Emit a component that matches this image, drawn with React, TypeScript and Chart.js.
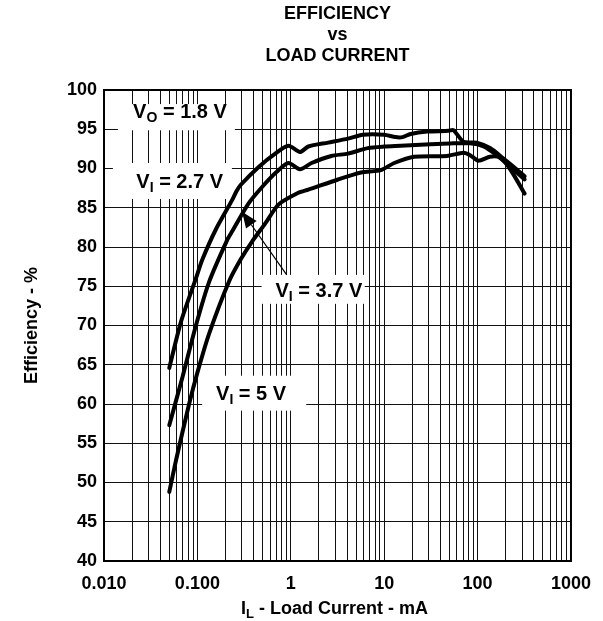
import { useEffect, useRef } from 'react';
import { Chart, registerables } from 'chart.js';

Chart.register(...registerables);

const FONT = '"Liberation Sans", Arial, Helvetica, sans-serif';

// ---- text ----
const titleLines = ['EFFICIENCY', 'vs', 'LOAD CURRENT'];
const yAxisTitle = 'Efficiency - %';
const xAxisTitleMain = 'I';
const xAxisTitleSub = 'L';
const xAxisTitleRest = ' - Load Current - mA';

// ---- axes ----
const xGridTicks = [
  0.01, 0.02, 0.03, 0.04, 0.05, 0.06, 0.07, 0.08, 0.09,
  0.1, 0.2, 0.3, 0.4, 0.5, 0.6, 0.7, 0.8, 0.9,
  1, 2, 3, 4, 5, 6, 7, 8, 9,
  10, 20, 30, 40, 50, 60, 70, 80, 90,
  100, 200, 300, 400, 500, 600, 700, 800, 900,
  1000,
];
const xDecadeValues = [0.01, 0.1, 1, 10, 100, 1000];
const xDecadeLabels = ['0.010', '0.100', '1', '10', '100', '1000'];
const yMin = 40;
const yMax = 100;
const yStep = 5;

// ---- series (load current mA, efficiency %) ----
const vi27Current = [0.05, 0.0668, 0.0964, 0.113, 0.157, 0.236, 0.262, 0.29, 0.453, 0.681, 0.944, 1.255, 1.54, 2.51, 4.09, 5.9, 10, 13.2, 15.7, 19.2, 28.9, 49, 55, 70.8, 98, 136, 188, 261, 319];
const vi27Efficiency = [64.6, 70.5, 76.0, 78.4, 82.2, 86.0, 87.1, 87.9, 90.2, 91.9, 92.9, 92.1, 92.8, 93.3, 93.8, 94.3, 94.3, 94.0, 94.0, 94.4, 94.7, 94.8, 94.9, 93.4, 93.3, 92.6, 91.3, 89.9, 89.0];

const vi37Current = [0.05, 0.0695, 0.0964, 0.133, 0.2087, 0.236, 0.355, 0.533, 0.708, 0.944, 1.255, 1.67, 2.72, 4.09, 6.67, 10, 15, 31.3, 51, 83, 116, 160, 221, 319];
const vi37Efficiency = [57.3, 63.5, 70.0, 75.5, 80.9, 82.0, 85.6, 88.1, 89.6, 90.7, 89.9, 90.7, 91.6, 91.9, 92.6, 92.8, 92.9, 93.1, 93.2, 93.2, 92.8, 91.7, 90.3, 88.6];

const vi5Current = [0.05, 0.0592, 0.0819, 0.1, 0.133, 0.218, 0.29, 0.385, 0.533, 0.738, 1.205, 1.54, 3.2, 5.66, 9.22, 12.8, 20.9, 47.1, 70.8, 83.2, 102, 136, 173, 221, 319];
const vi5Efficiency = [48.8, 52.9, 60.1, 64.0, 68.9, 75.6, 78.4, 80.7, 83.0, 85.4, 86.9, 87.3, 88.6, 89.5, 89.8, 90.7, 91.5, 91.6, 92.0, 91.7, 91.0, 91.5, 91.4, 90.0, 86.8];

// ---- in-plot labels (data coordinates) ----
type Note = { main: string; sub: string; rest: string; at: [number, number]; box: [number, number, number, number] };
const notes: Note[] = [
  { main: 'V', sub: 'O', rest: ' = 1.8 V', at: [0.0205, 96.39], box: [0.01408, 0.252, 94.87, 98.21] },
  { main: 'V', sub: 'I', rest: ' = 2.7 V', at: [0.0222, 87.52], box: [0.01246, 0.234, 86.12, 90.7] },
  { main: 'V', sub: 'I', rest: ' = 3.7 V', at: [0.686, 73.65], box: [0.4875, 6.19, 72.76, 76.45] },
  { main: 'V', sub: 'I', rest: ' = 5 V', at: [0.1584, 60.55], box: [0.1125, 1.464, 59.15, 63.6] },
];
const arrowFrom: [number, number] = [0.905, 76.45];
const arrowTo: [number, number] = [0.301, 84.5];

function drawSubText(ctx: CanvasRenderingContext2D, main: string, sub: string, rest: string, x: number, y: number, size: number, subSize: number, drop: number) {
  ctx.textAlign = 'left';
  ctx.textBaseline = 'alphabetic';
  ctx.fillStyle = '#000';
  ctx.font = `bold ${size}px ${FONT}`;
  ctx.fillText(main, x, y);
  const w1 = ctx.measureText(main).width;
  ctx.font = `bold ${subSize}px ${FONT}`;
  ctx.fillText(sub, x + w1, y + drop);
  const w2 = ctx.measureText(sub).width;
  ctx.font = `bold ${size}px ${FONT}`;
  ctx.fillText(rest, x + w1 + w2, y);
}

function subTextWidth(ctx: CanvasRenderingContext2D, main: string, sub: string, rest: string, size: number, subSize: number) {
  ctx.font = `bold ${size}px ${FONT}`;
  const a = ctx.measureText(main).width + ctx.measureText(rest).width;
  ctx.font = `bold ${subSize}px ${FONT}`;
  return a + ctx.measureText(sub).width;
}

const overlayPlugin = {
  id: 'overlay',
  beforeDatasetsDraw(chart: any) {
    const { ctx, scales } = chart;
    const x = scales.x;
    const y = scales.y;
    ctx.save();
    for (const n of notes) {
      const x0 = x.getPixelForValue(n.box[0]);
      const x1 = x.getPixelForValue(n.box[1]);
      const y0 = y.getPixelForValue(n.box[3]);
      const y1 = y.getPixelForValue(n.box[2]);
      ctx.fillStyle = '#fff';
      ctx.fillRect(x0, y0, x1 - x0, y1 - y0);
      drawSubText(ctx, n.main, n.sub, n.rest, x.getPixelForValue(n.at[0]), y.getPixelForValue(n.at[1]), 20, 14, 4);
    }
    ctx.restore();
  },
  afterDatasetsDraw(chart: any) {
    const { ctx, scales, chartArea } = chart;
    const x = scales.x;
    const y = scales.y;
    ctx.save();
    // arrow
    const fx = x.getPixelForValue(arrowFrom[0]);
    const fy = y.getPixelForValue(arrowFrom[1]);
    const tx = x.getPixelForValue(arrowTo[0]);
    const ty = y.getPixelForValue(arrowTo[1]);
    const ang = Math.atan2(ty - fy, tx - fx);
    const len = 16;
    const half = 6.5;
    const bx = tx - len * Math.cos(ang);
    const by = ty - len * Math.sin(ang);
    ctx.strokeStyle = '#000';
    ctx.lineWidth = 1.2;
    ctx.beginPath();
    ctx.moveTo(fx, fy);
    ctx.lineTo(bx, by);
    ctx.stroke();
    ctx.fillStyle = '#000';
    ctx.beginPath();
    ctx.moveTo(tx, ty);
    ctx.lineTo(bx + half * Math.sin(ang), by - half * Math.cos(ang));
    ctx.lineTo(bx - half * Math.sin(ang), by + half * Math.cos(ang));
    ctx.closePath();
    ctx.fill();
    // plot frame
    ctx.lineWidth = 2;
    ctx.strokeRect(chartArea.left, chartArea.top, chartArea.right - chartArea.left, chartArea.bottom - chartArea.top);
    ctx.restore();
  },
  afterDraw(chart: any) {
    const { ctx, chartArea } = chart;
    ctx.save();
    // y axis title
    ctx.translate(32, (chartArea.top + chartArea.bottom) / 2);
    ctx.rotate(-Math.PI / 2);
    ctx.font = `bold 18px ${FONT}`;
    ctx.fillStyle = '#000';
    ctx.textAlign = 'center';
    ctx.textBaseline = 'middle';
    ctx.fillText(yAxisTitle, 0, 0);
    ctx.restore();
    ctx.save();
    const w = subTextWidth(ctx, xAxisTitleMain, xAxisTitleSub, xAxisTitleRest, 18, 13);
    const cx = (chartArea.left + chartArea.right) / 2 - 3;
    drawSubText(ctx, xAxisTitleMain, xAxisTitleSub, xAxisTitleRest, cx - w / 2, 613.5, 18, 13, 4);
    ctx.restore();
  },
};

function makeData(xs: number[], ys: number[]) {
  return xs.map((v, i) => ({ x: v, y: ys[i] }));
}

export default function App() {
  const ref = useRef<HTMLCanvasElement | null>(null);
  useEffect(() => {
    document.body.style.margin = '0';
    if (!ref.current) return;
    const lineStyle = {
      borderColor: '#000',
      backgroundColor: '#000',
      borderWidth: 4,
      pointRadius: 0,
      fill: false,
      tension: 0.25,
      borderCapStyle: 'round' as const,
      borderJoinStyle: 'round' as const,
    };
    const chart = new Chart(ref.current, {
      type: 'line',
      data: {
        datasets: [
          { label: 'VI = 2.7 V', data: makeData(vi27Current, vi27Efficiency), ...lineStyle },
          { label: 'VI = 3.7 V', data: makeData(vi37Current, vi37Efficiency), ...lineStyle },
          { label: 'VI = 5 V', data: makeData(vi5Current, vi5Efficiency), ...lineStyle },
        ],
      },
      options: {
        animation: false,
        responsive: false,
        devicePixelRatio: 1,
        layout: { padding: { left: 0, right: 28, top: 0, bottom: 0 } },
        plugins: {
          legend: { display: false },
          tooltip: { enabled: false },
          title: {
            display: true,
            text: titleLines,
            fullSize: false,
            color: '#000',
            font: { family: FONT, size: 18, weight: 'bold', lineHeight: 1.15 },
            padding: { top: 4, bottom: 23.9 },
          },
        },
        scales: {
          x: {
            type: 'logarithmic',
            min: 0.01,
            max: 1000,
            afterBuildTicks: (scale: any) => {
              scale.ticks = xGridTicks.map((v) => ({ value: v }));
            },
            afterFit: (scale: any) => {
              scale.height = 60;
            },
            ticks: {
              autoSkip: false,
              maxRotation: 0,
              padding: 12,
              color: '#000',
              font: { family: FONT, size: 18, weight: 'bold' },
              callback: (value: any) => {
                const i = xDecadeValues.indexOf(Number(value));
                return i >= 0 ? xDecadeLabels[i] : '';
              },
            },
            grid: { color: '#111', lineWidth: 1, drawTicks: false },
            border: { display: false },
          },
          y: {
            type: 'linear',
            min: yMin,
            max: yMax,
            afterFit: (scale: any) => {
              scale.width = 104;
            },
            ticks: {
              stepSize: yStep,
              padding: 7,
              color: '#000',
              font: { family: FONT, size: 18, weight: 'bold' },
            },
            grid: { color: '#111', lineWidth: 1, drawTicks: false },
            border: { display: false },
          },
        },
      },
      plugins: [overlayPlugin],
    } as any);
    return () => chart.destroy();
  }, []);
  return (
    <div style={{ width: 603, height: 621, background: '#fff' }}>
      <canvas ref={ref} width={603} height={621} style={{ display: 'block' }} />
    </div>
  );
}
